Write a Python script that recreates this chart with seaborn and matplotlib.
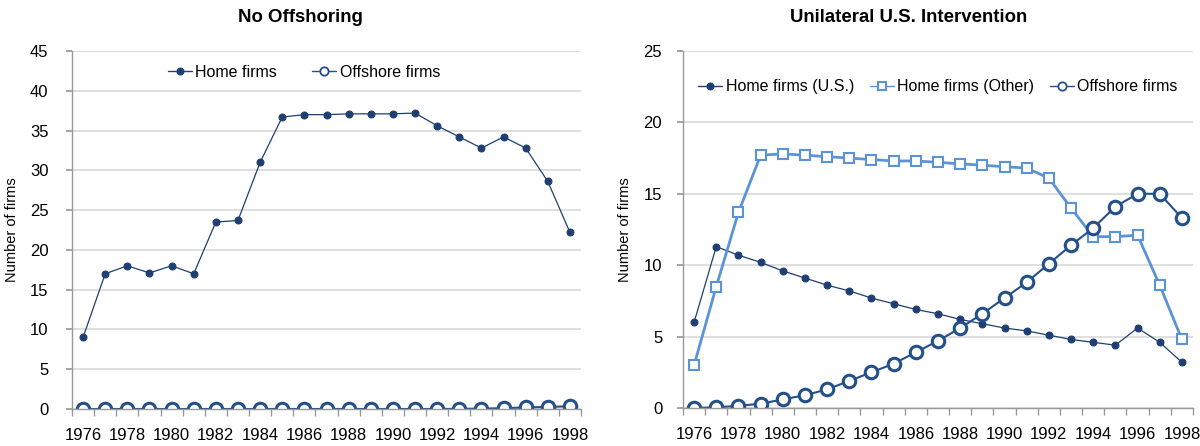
import matplotlib
import matplotlib.pyplot as plt
import numpy as np
import pandas as pd
import seaborn as sns
from matplotlib.ticker import FixedLocator, NullFormatter

matplotlib.use("Agg")

years = list(range(1976, 1999))

# left panel: no offshoring
home_no_off = [9.0, 17.0, 18.0, 17.1, 18.0, 17.0, 23.5, 23.7, 31.0, 36.7, 37.0, 37.0,
               37.1, 37.1, 37.1, 37.2, 35.6, 34.2, 32.8, 34.2, 32.8, 28.6, 22.2]
offshore_no_off = [0.0, 0.0, 0.0, 0.0, 0.0, 0.0, 0.0, 0.0, 0.0, 0.0, 0.0, 0.0,
                   0.0, 0.0, 0.0, 0.0, 0.0, 0.02, 0.05, 0.1, 0.2, 0.25, 0.35]

# right panel: unilateral U.S. intervention
home_us = [6.0, 11.3, 10.7, 10.2, 9.6, 9.1, 8.6, 8.2, 7.7, 7.3, 6.9, 6.6,
           6.2, 5.9, 5.6, 5.4, 5.1, 4.8, 4.6, 4.4, 5.6, 4.6, 3.2]
home_other = [3.0, 8.5, 13.7, 17.7, 17.8, 17.7, 17.6, 17.5, 17.4, 17.3, 17.3, 17.2,
              17.1, 17.0, 16.9, 16.8, 16.1, 14.0, 12.0, 12.0, 12.1, 8.6, 4.8]
offshore_us = [0.0, 0.05, 0.15, 0.3, 0.6, 0.9, 1.3, 1.9, 2.5, 3.1, 3.9, 4.7,
               5.6, 6.6, 7.7, 8.8, 10.1, 11.4, 12.6, 14.1, 15.0, 15.0, 13.3]

year_labels = [str(y) for y in years if y % 2 == 0]

NAVY = "#1f3f73"
NAVY2 = "#24508a"
LIGHT = "#5b93d9"

sns.set_theme(style="white")
plt.rcParams["font.family"] = ["Liberation Sans", "DejaVu Sans"]
plt.rcParams["text.color"] = "black"
plt.rcParams["axes.labelcolor"] = "black"
plt.rcParams["xtick.color"] = "black"
plt.rcParams["ytick.color"] = "black"

STYLES = {
    "home": dict(color=NAVY, linewidth=0.9, marker="o", markersize=5,
                 markerfacecolor=NAVY, markeredgecolor=NAVY),
    "other": dict(color=LIGHT, linewidth=2.0, marker="s", markersize=7,
                  markerfacecolor="white", markeredgecolor=LIGHT, markeredgewidth=1.5),
    "offshore": dict(color=NAVY2, linewidth=1.5, marker="o", markersize=9,
                     markerfacecolor="white", markeredgecolor=NAVY2, markeredgewidth=2.2),
}


def style_axis(ax, ymax, ypad):
    ax.set_xlim(1975.5, 1998.5)
    ax.set_ylim(0, ymax)
    ax.set_yticks(np.arange(0, ymax + 1, 5))
    ax.set_xticks([y for y in years if y % 2 == 0])
    ax.set_xticklabels(year_labels)
    ax.xaxis.set_minor_locator(FixedLocator(np.arange(1975.5, 1999, 1)))
    ax.xaxis.set_minor_formatter(NullFormatter())
    ax.tick_params(axis="x", which="major", length=0, labelsize=12, pad=14)
    ax.tick_params(axis="x", which="minor", length=5, color="#999999", direction="out", bottom=True)
    ax.tick_params(axis="y", length=4, color="#999999", direction="out", left=True, labelsize=12, pad=ypad)
    ax.grid(axis="y", color="#d9d9d9", linewidth=1.2)
    ax.set_axisbelow(True)
    for side in ["top", "right"]:
        ax.spines[side].set_visible(False)
    for side in ["left", "bottom"]:
        ax.spines[side].set_color("#999999")
        ax.spines[side].set_linewidth(1.0)
    ax.set_xlabel("")
    ax.set_ylabel("Number of firms", fontsize=10.5, labelpad=8)


def shrink_legend_markers(leg):
    for h in leg.legend_handles:
        h.set_markersize(min(h.get_markersize(), 6))
        if h.get_markeredgewidth() > 1.5:
            h.set_markeredgewidth(1.3)
        h.set_linewidth(1.0)


fig = plt.figure(figsize=(12, 4.46), dpi=100)
ax1 = fig.add_axes([72 / 1200, 37 / 446, 509 / 1200, 358 / 446])
ax2 = fig.add_axes([683 / 1200, 38 / 446, 510 / 1200, 357 / 446])

left_df = pd.DataFrame({"year": years, "home": home_no_off, "offshore": offshore_no_off})
sns.lineplot(data=left_df, x="year", y="home", ax=ax1, label="Home firms", **STYLES["home"])
sns.lineplot(data=left_df, x="year", y="offshore", ax=ax1, label="Offshore firms", **STYLES["offshore"])
style_axis(ax1, 45, 13)
leg1 = ax1.legend(loc="center", bbox_to_anchor=(0.456, 0.94), ncol=2, frameon=False, fontsize=11.5,
                  handlelength=1.5, handletextpad=0.2, columnspacing=2.2)
shrink_legend_markers(leg1)

right_df = pd.DataFrame({"year": years, "us": home_us, "other": home_other, "offshore": offshore_us})
sns.lineplot(data=right_df, x="year", y="us", ax=ax2, label="Home firms (U.S.)", **STYLES["home"])
sns.lineplot(data=right_df, x="year", y="other", ax=ax2, label="Home firms (Other)", **STYLES["other"])
sns.lineplot(data=right_df, x="year", y="offshore", ax=ax2, label="Offshore firms", **STYLES["offshore"])
style_axis(ax2, 25, 11)
leg2 = ax2.legend(loc="center", bbox_to_anchor=(0.5, 0.9), ncol=3, frameon=False, fontsize=11.5,
                  handlelength=1.5, handletextpad=0.2, columnspacing=1.0)
shrink_legend_markers(leg2)

fig.text(0.25, 1 - 18 / 446, "No Offshoring", ha="center", va="center", fontsize=13.4, fontweight="bold")
fig.text(0.757, 1 - 18 / 446, "Unilateral U.S. Intervention", ha="center", va="center",
         fontsize=13.4, fontweight="bold")

fig.savefig("out.png", dpi=100)
